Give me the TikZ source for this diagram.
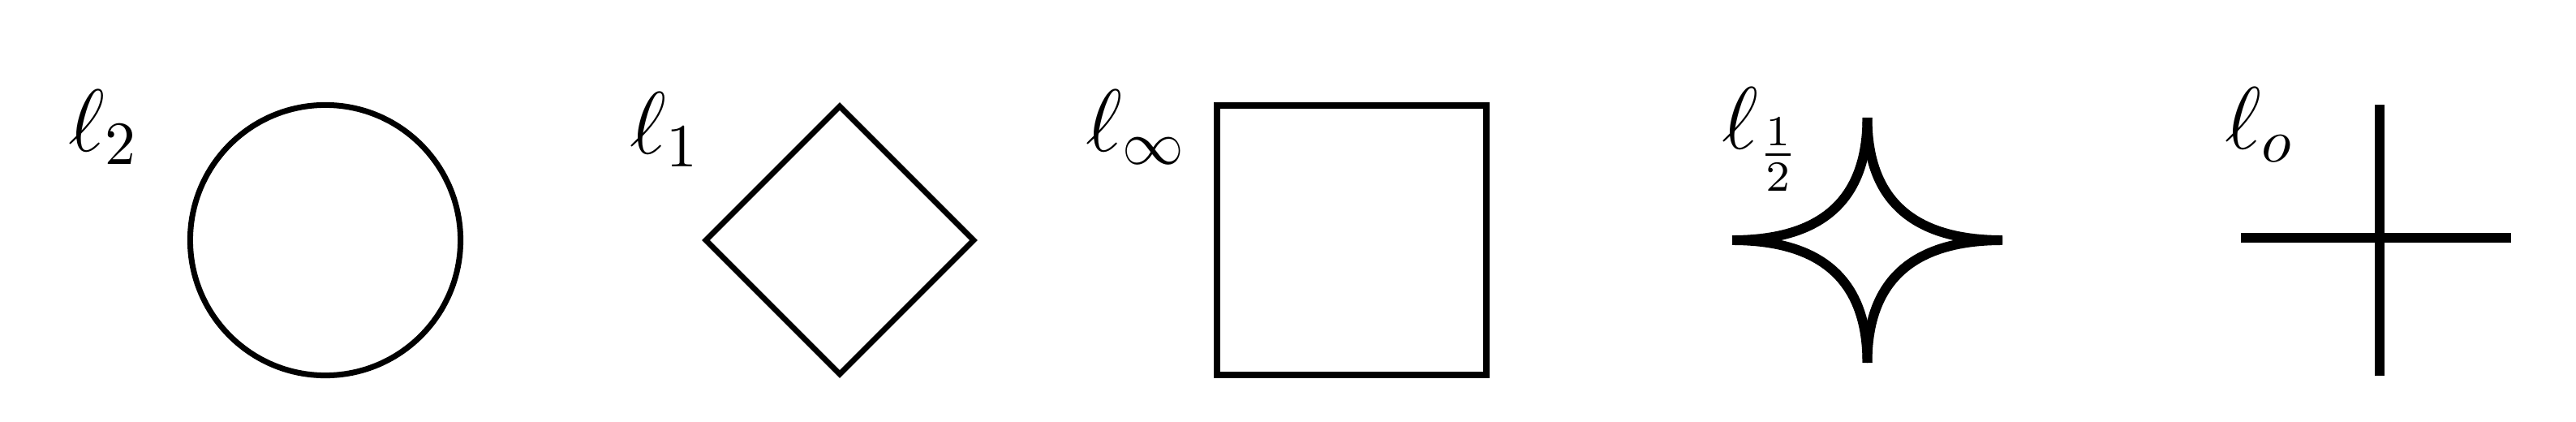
\documentclass[tikz,border=0pt]{standalone}
\usepackage{amsmath}
\tikzset{
  ballline/.style={draw=black, line width=#1, line cap=butt},
  ballline/.default=1pt,
  normlabel/.style={anchor=base west, inner sep=0pt, font=\Large, scale=1.076}
}
\begin{document}
\begin{tikzpicture}
  \useasboundingbox (0,0) rectangle (15.875,2.595);

  % l2 ball: circle
  \coordinate (ctwo) at (2.005,1.115);
  \draw[ballline=1pt] (ctwo) circle (0.833);
  \node[normlabel] (ltwo) at (0.415,1.665) {$\ell_2$};

  % l1 ball: diamond
  \coordinate (cone) at (5.175,1.115);
  \draw[ballline=1pt] ([yshift=0.825cm]cone) -- ([xshift=0.825cm]cone)
    -- ([yshift=-0.825cm]cone) -- ([xshift=-0.825cm]cone) -- cycle;
  \node[normlabel] (lone) at (3.875,1.65) {$\ell_1$};

  % l-infinity ball: square
  \coordinate (cinf) at (8.33,1.115);
  \draw[ballline=1.15pt] ([shift={(-0.828,-0.828)}]cinf) rectangle ([shift={(0.828,0.828)}]cinf);
  \node[normlabel] (linf) at (6.685,1.665) {$\ell_\infty$};

  % l-1/2 ball: four parabolic arcs
  \coordinate (chalf) at (11.5075,1.115);
  \begin{scope}[shift={(chalf)}, xscale=0.8325, yscale=0.755]
    \foreach \sx/\sy in {1/1,-1/1,-1/-1,1/-1}
      \draw[ballline=1.7pt] (\sx,0) .. controls (\sx/3,0) and (0,\sy/3) .. (0,\sy);
  \end{scope}
  \node[normlabel] (lhalf) at (10.605,1.68) {$\ell_{\frac{1}{2}}$};

  % l0 ball: the two axes
  \coordinate (czero) at (14.665,1.13);
  \draw[ballline=1.7pt] ([xshift=-0.855cm]czero) -- ([xshift=0.81cm]czero);
  \draw[ballline=1.7pt] ([yshift=0.82cm]czero) -- ([yshift=-0.85cm]czero);
  \node[normlabel] (lzero) at (13.705,1.68) {$\ell_o$};
\end{tikzpicture}
\end{document}
